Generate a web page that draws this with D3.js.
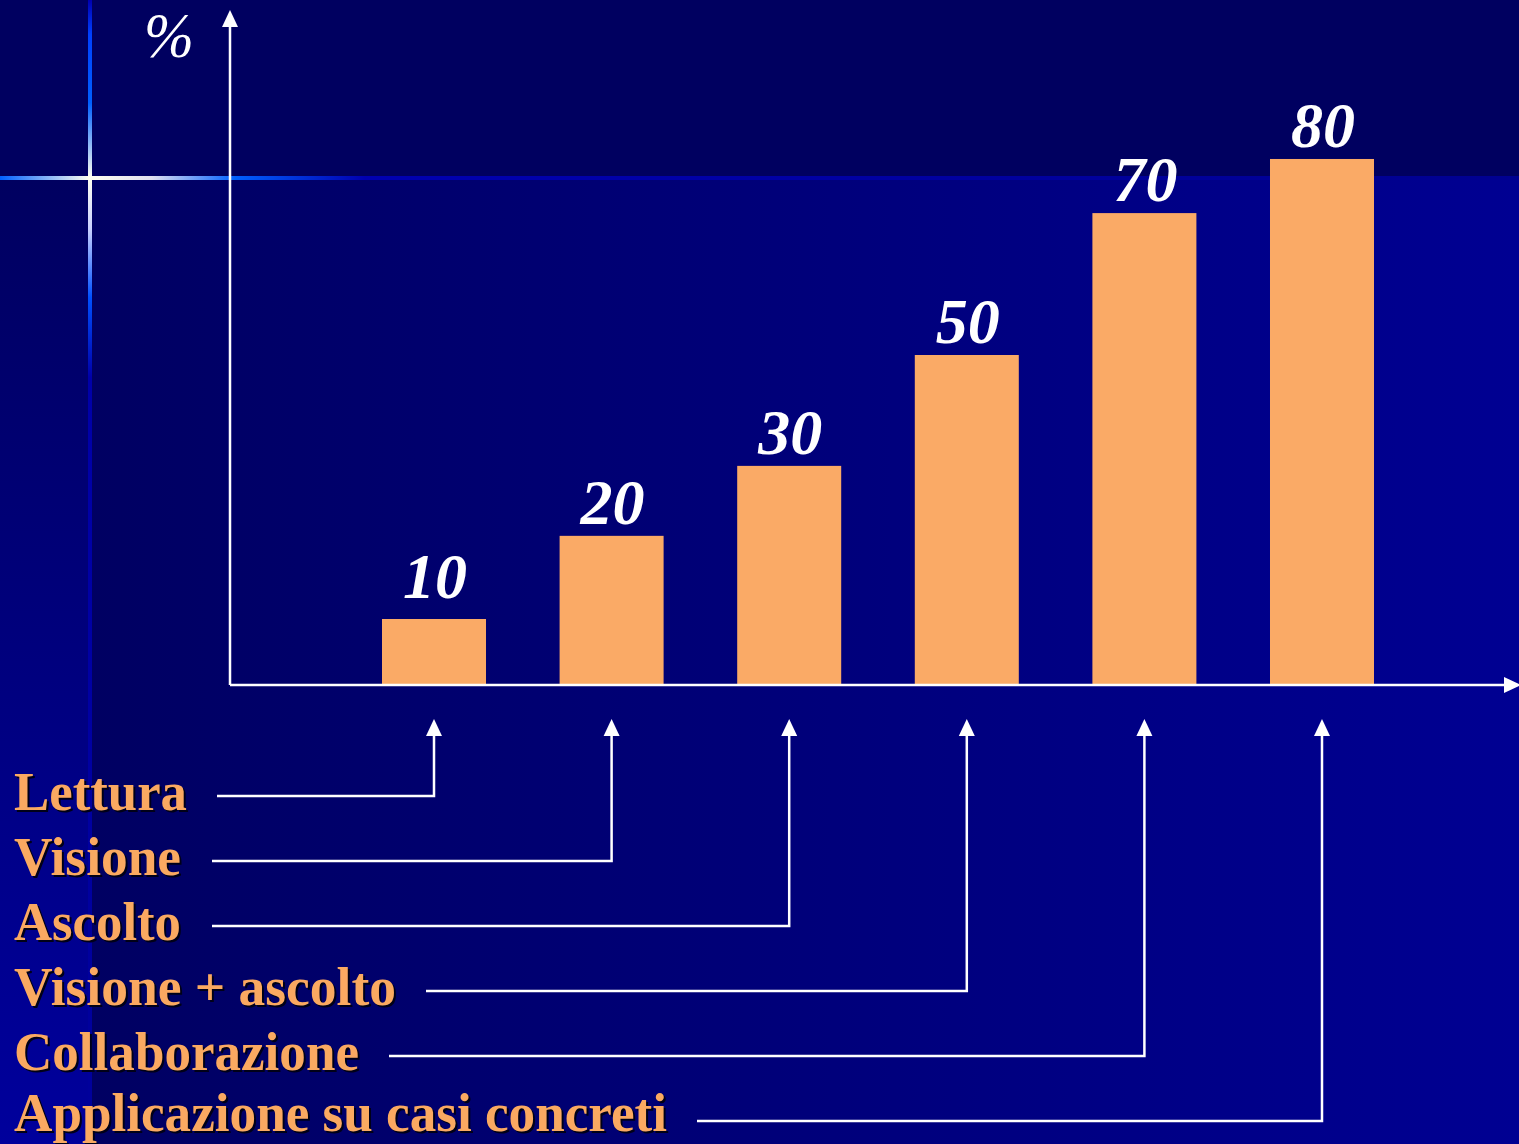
<!DOCTYPE html>
<html>
<script src="https://d3js.org/d3.v7.min.js"></script>
<style>
    body {margin: 0; background: #000060; overflow: hidden;}
</style>
<body>
<div id="chart"></div>
<script>
    // categories (bottom-up order of the list) and values
    var categories = ["Lettura", "Visione", "Ascolto", "Visione + ascolto", "Collaborazione", "Applicazione su casi concreti"];
    var valueLabels = ["10", "20", "30", "50", "70", "80"];
    // bar heights as drawn in the picture (in %)
    var barValues = [10, 22.6, 33.2, 50, 71.5, 79.7];
    // measured text widths of the labels
    var labelWidths = [173, 167, 167, 382, 345, 653];

    var W = 1519, H = 1144;
    var baseY = 685, axisX = 230;

    var svg = d3.select("#chart").append("svg")
        .attr("width", W).attr("height", H);

    var defs = svg.append("defs");
    var g1 = defs.append("linearGradient").attr("id", "bgMain")
        .attr("x1", 0).attr("x2", 1).attr("y1", 0).attr("y2", 0);
    g1.append("stop").attr("offset", "0").attr("stop-color", "#000062");
    g1.append("stop").attr("offset", "1").attr("stop-color", "#000092");
    var g2 = defs.append("linearGradient").attr("id", "bgLeft")
        .attr("x1", 0).attr("x2", 0).attr("y1", 0).attr("y2", 1);
    g2.append("stop").attr("offset", "0").attr("stop-color", "#000060");
    g2.append("stop").attr("offset", "1").attr("stop-color", "#00009c");
    var gv = defs.append("linearGradient").attr("id", "glowV")
        .attr("gradientUnits", "userSpaceOnUse")
        .attr("x1", 0).attr("x2", 0).attr("y1", 0).attr("y2", H);
    gv.append("stop").attr("offset", 0).attr("stop-color", "#0000b0");
    gv.append("stop").attr("offset", 0.03).attr("stop-color", "#0040ff");
    gv.append("stop").attr("offset", 0.09).attr("stop-color", "#0060ff");
    gv.append("stop").attr("offset", 0.155).attr("stop-color", "#fffff0");
    gv.append("stop").attr("offset", 0.2).attr("stop-color", "#c8d0ff");
    gv.append("stop").attr("offset", 0.26).attr("stop-color", "#0050ff");
    gv.append("stop").attr("offset", 0.33).attr("stop-color", "#0000a8");
    gv.append("stop").attr("offset", 1).attr("stop-color", "#00009a");
    var gh = defs.append("linearGradient").attr("id", "glowH")
        .attr("gradientUnits", "userSpaceOnUse")
        .attr("x1", 0).attr("x2", W).attr("y1", 0).attr("y2", 0);
    gh.append("stop").attr("offset", 0).attr("stop-color", "#0060ff");
    gh.append("stop").attr("offset", 0.059).attr("stop-color", "#fffff0");
    gh.append("stop").attr("offset", 0.1).attr("stop-color", "#e0e0f0");
    gh.append("stop").attr("offset", 0.155).attr("stop-color", "#0060ff");
    gh.append("stop").attr("offset", 0.24).attr("stop-color", "#0000b0");
    gh.append("stop").attr("offset", 1).attr("stop-color", "#000090");

    // arrowhead: tip at (tx, ty), pointing in direction dir ("up" or "right")
    function arrowHead(tx, ty, dir) {
        var len = 17, half = 8;
        var d = dir == "up"
            ? "M" + tx + "," + ty + "L" + (tx - half) + "," + (ty + len) + "L" + (tx + half) + "," + (ty + len) + "Z"
            : "M" + tx + "," + ty + "L" + (tx - len) + "," + (ty - half) + "L" + (tx - len) + "," + (ty + half) + "Z";
        svg.append("path").attr("d", d).attr("fill", "#fff");
    }

    // background
    svg.append("rect").attr("x", 0).attr("y", 0).attr("width", W).attr("height", H).attr("fill", "#000060");
    svg.append("rect").attr("x", 90).attr("y", 180).attr("width", W - 90).attr("height", H - 180).attr("fill", "url(#bgMain)");
    svg.append("rect").attr("x", 0).attr("y", 180).attr("width", 90).attr("height", H - 180).attr("fill", "url(#bgLeft)");
    svg.append("rect").attr("x", 0).attr("y", 176).attr("width", W).attr("height", 4).attr("fill", "url(#glowH)");
    svg.append("rect").attr("x", 88).attr("y", 0).attr("width", 4).attr("height", H).attr("fill", "url(#glowV)");

    var x = d3.scaleBand().domain(categories).range([382, 1374]).paddingInner(0.4144).paddingOuter(0);
    var y = d3.scaleLinear().domain([0, 100]).range([baseY, baseY - 660]);

    // bars
    svg.selectAll(".bar").data(categories).enter().append("rect")
        .attr("x", function(d){ return x(d); })
        .attr("y", function(d, i){ return y(barValues[i]); })
        .attr("width", x.bandwidth())
        .attr("height", function(d, i){ return baseY - y(barValues[i]); })
        .attr("fill", "#FAAA66");

    svg.selectAll(".val").data(categories).enter().append("text")
        .attr("x", function(d){ return x(d) + x.bandwidth() / 2 + 1; })
        .attr("y", function(d, i){ return y(barValues[i]) - (i == 0 ? 21 : 12); })
        .attr("text-anchor", "middle")
        .attr("font-family", "Liberation Serif, serif")
        .attr("font-weight", "bold").attr("font-style", "italic")
        .attr("font-size", 64).attr("fill", "#fff")
        .text(function(d, i){ return valueLabels[i]; });

    // axes
    svg.append("line").attr("x1", axisX).attr("y1", baseY).attr("x2", axisX).attr("y2", 20)
        .attr("stroke", "#fff").attr("stroke-width", 2.5);
    arrowHead(axisX, 10, "up");
    svg.append("line").attr("x1", axisX).attr("y1", baseY).attr("x2", W - 10).attr("y2", baseY)
        .attr("stroke", "#fff").attr("stroke-width", 2.5);
    arrowHead(W + 2, baseY, "right");
    svg.append("text").attr("x", 144).attr("y", 57)
        .attr("font-family", "Liberation Serif, serif").attr("font-style", "italic")
        .attr("font-size", 64).attr("fill", "#fff")
        .attr("textLength", 50).attr("lengthAdjust", "spacingAndGlyphs")
        .text("%");

    // labels with connectors
    var rowY = d3.scalePoint().domain(categories).range([796, 1121]);

    categories.forEach(function(c, i) {
        var ty = Math.min(rowY(c) + 14, H - 13);
        svg.append("text").attr("x", 16).attr("y", ty + 2)
            .attr("font-family", "Liberation Serif, serif").attr("font-weight", "bold")
            .attr("font-size", 55).attr("fill", "#000018")
            .attr("textLength", labelWidths[i]).attr("lengthAdjust", "spacingAndGlyphs")
            .text(c);
        svg.append("text").attr("x", 14).attr("y", ty)
            .attr("font-family", "Liberation Serif, serif").attr("font-weight", "bold")
            .attr("font-size", 55).attr("fill", "#FAA961")
            .attr("textLength", labelWidths[i]).attr("lengthAdjust", "spacingAndGlyphs")
            .text(c);

        var startX = Math.max(212, 14 + labelWidths[i] + 30);
        var cx = x(c) + x.bandwidth() / 2;
        svg.append("path")
            .attr("d", "M" + startX + "," + rowY(c) + "H" + cx + "V" + 732)
            .attr("fill", "none").attr("stroke", "#fff").attr("stroke-width", 2.5);
        arrowHead(cx, 719, "up");
    });
</script>
</body>
</html>
